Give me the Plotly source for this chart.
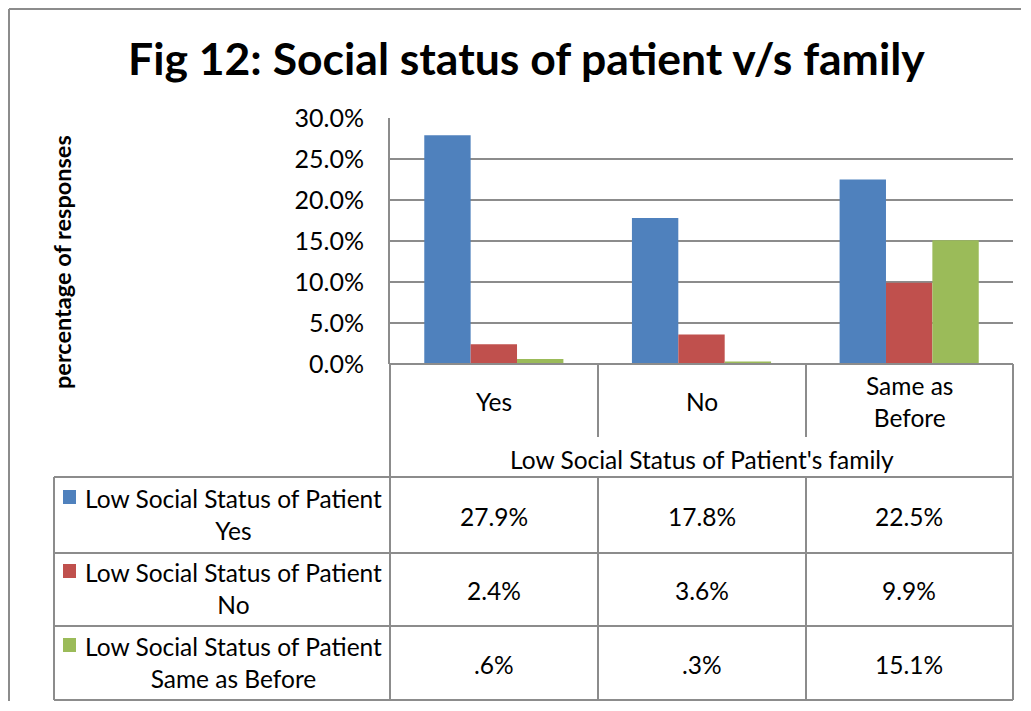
import plotly.graph_objects as go

# Page window is 1031x711; the page body has an 8px margin, so the figure is
# kept slightly smaller than the window and reference pixel positions are shifted by 8px.
OFF = 8
W, H = 1013, 693

# ---------------- data ----------------
categories = ["Yes", "No", "Same as Before"]
category_labels = ["Yes", "No", "Same as<br>Before"]
axis_group_label = "Low Social Status of Patient's family"

series_names = [
    "Low Social Status of Patient Yes",
    "Low Social Status of Patient No",
    "Low Social Status of Patient Same as Before",
]
series_row_labels = [
    "Low Social Status of Patient<br>Yes",
    "Low Social Status of Patient<br>No",
    "Low Social Status of Patient<br>Same as Before",
]
values_patient_yes = [27.9, 17.8, 22.5]
values_patient_no = [2.4, 3.6, 9.9]
values_patient_same = [0.6, 0.3, 15.1]
labels_patient_yes = ["27.9%", "17.8%", "22.5%"]
labels_patient_no = ["2.4%", "3.6%", "9.9%"]
labels_patient_same = [".6%", ".3%", "15.1%"]

y_ticks = [0, 0.05, 0.10, 0.15, 0.20, 0.25, 0.30]

colors = ["#4F81BD", "#C0504D", "#9BBB59"]
FONT = "Lato"
LINE = "#8C8C8C"
TXT = 24.5

# ---------------- helpers ----------------
def px(x):
    return (x - OFF) / W

def py(y):
    return 1 - (y - OFF) / H

series_values = [values_patient_yes, values_patient_no, values_patient_same]
series_labels = [labels_patient_yes, labels_patient_no, labels_patient_same]

fig = go.Figure()
for name, vals, col in zip(series_names, series_values, colors):
    fig.add_trace(go.Bar(
        x=categories, y=[v / 100 for v in vals], name=name,
        marker=dict(color=col, line=dict(width=0)),
    ))

shapes = []

def hline(y, x0, x1):
    shapes.append(dict(type="line", xref="paper", yref="paper",
                       x0=px(x0), x1=px(x1), y0=py(y), y1=py(y),
                       line=dict(color=LINE, width=2)))

def vline(x, y0, y1):
    shapes.append(dict(type="line", xref="paper", yref="paper",
                       x0=px(x), x1=px(x), y0=py(y0), y1=py(y1),
                       line=dict(color=LINE, width=2)))

# outer chart border (top and left visible), kept inside the figure
hline(9, 9, OFF + W)
vline(9, 9, OFF + H)

# table lines
hline(364, 390, 1013)
for y in [477, 553, 626, 700]:
    hline(y, 54, 1013)
vline(390, 364, 700)
vline(1013, 364, 700)
for x in [598, 806]:
    vline(x, 364, 437)
    vline(x, 477, 700)
vline(54, 477, 700)

annotations = []
# title
annotations.append(dict(text="<b>Fig 12: Social status of patient v/s family</b>",
                        xref="paper", yref="paper", x=px(526), y=py(57),
                        showarrow=False, xanchor="center", yanchor="middle",
                        font=dict(family=FONT, size=44.5, color="#000")))
# y-axis title
annotations.append(dict(text="<b>percentage of responses</b>",
                        xref="paper", yref="paper", x=px(62), y=py(262),
                        showarrow=False, textangle=-90, xanchor="center", yanchor="middle",
                        font=dict(family=FONT, size=23.5, color="#000")))
# category labels
for cat, lab in zip(categories, category_labels):
    annotations.append(dict(text=lab, xref="x", yref="paper", x=cat, y=py(401),
                            showarrow=False, xanchor="center", yanchor="middle",
                            font=dict(family=FONT, size=TXT, color="#000")))
annotations.append(dict(text=axis_group_label, xref="paper", yref="paper",
                        x=px(701.5), y=py(459), showarrow=False,
                        xanchor="center", yanchor="middle",
                        font=dict(family=FONT, size=TXT, color="#000")))
# table rows
row_centers = [514, 588, 662]
for rc, rl, labs, col in zip(row_centers, series_row_labels, series_labels, colors):
    annotations.append(dict(text=rl, xref="paper", yref="paper", x=px(233), y=py(rc),
                            showarrow=False, xanchor="center", yanchor="middle",
                            align="center",
                            font=dict(family=FONT, size=TXT, color="#000")))
    shapes.append(dict(type="rect", xref="paper", yref="paper",
                       x0=px(63), x1=px(76), y0=py(rc - 10), y1=py(rc - 24),
                       fillcolor=col, line=dict(width=0)))
    for cat, lab in zip(categories, labs):
        annotations.append(dict(text=lab, xref="x", yref="paper", x=cat, y=py(rc + 2),
                                showarrow=False, xanchor="center", yanchor="middle",
                                font=dict(family=FONT, size=TXT, color="#000")))

fig.update_layout(
    width=W, height=H,
    margin=dict(l=0, r=0, t=0, b=0, pad=0, autoexpand=False),
    paper_bgcolor="white", plot_bgcolor="white",
    barmode="group", bargap=0.33, bargroupgap=0,
    showlegend=False,
    shapes=shapes, annotations=annotations,
    font=dict(family=FONT, color="#000"),
    xaxis=dict(domain=[px(390), px(1013)], range=[-0.5, 2.5],
               showticklabels=False, showgrid=False, zeroline=False,
               showline=False, fixedrange=True, automargin=False),
    yaxis=dict(domain=[py(364), py(118)], range=[0, 0.30],
               tickvals=y_ticks, tickformat=".1%",
               showgrid=True, gridcolor=LINE, gridwidth=2,
               zeroline=False, showline=True, linecolor=LINE, linewidth=2,
               ticks="", ticklabelstandoff=19, automargin=False,
               tickfont=dict(family=FONT, size=25, color="#000"),
               fixedrange=True),
)

fig.write_html("out.html", config={"displayModeBar": False})
